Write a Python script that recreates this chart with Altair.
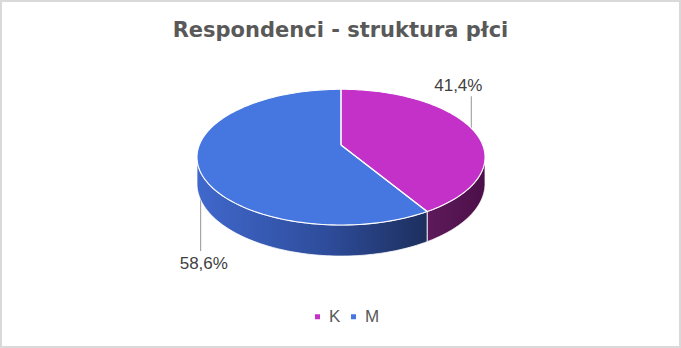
import altair as alt
import numpy as np
import pandas as pd

# ---- data ----
categories = ["K", "M"]
shares = [41.4, 58.6]
title_text = "Respondenci - struktura płci"

# ---- styles ----
top_colors = ["#C331C9", "#4676DF"]
wall_stops = [
    [("#5E1A5B", 0.0), ("#4C0F49", 1.0)],
    [("#4068CC", 0.0), ("#2E4D9C", 0.55), ("#1D2F5E", 1.0)],
]
# label offsets relative to the slice's mid-angle rim point (pixels)
leader_dx = [0.0, 3.0]
leader_dy = [-32.0, 87.6]
text_dx = [-13.0, 6.2]
text_dy = [-37.0, 105.9]

# ---- 3D pie layout (perspective-projected disc) ----
W, H = 681, 348
CX, CY = 341.0, 145.0      # apex of the pie
RX, RY = 141.7, 65.7       # disc radii on screen
PERSP = -0.179             # perspective factor (front is closer)
DEPTH = 25.5               # thickness of the disc


def proj(theta_deg, depth=0.0):
    t = np.radians(theta_deg)
    u = np.sin(t)
    v = -np.cos(t)
    den = 1 + PERSP * v
    return CX + RX * u / den, CY + (RY * v + depth) / den


total = float(sum(shares))
ends = np.cumsum(shares) / total * 360.0
starts = np.concatenate([[0.0], ends[:-1]])
sil = np.degrees(np.arccos(PERSP))          # right silhouette angle
sil_r, sil_l = sil, 360.0 - sil

top_rows, wall_rows, lab_rows = [], [], []
for i, cat in enumerate(categories):
    a0, a1 = starts[i], ends[i]
    angs = np.linspace(a0, a1, 120)
    k = 0
    top_rows.append(dict(cat=cat, k=k, x=CX, y=CY)); k += 1
    for a in angs:
        x, y = proj(a)
        top_rows.append(dict(cat=cat, k=k, x=x, y=y)); k += 1
    top_rows.append(dict(cat=cat, k=k, x=CX, y=CY))

    lo, hi = max(a0, sil_r), min(a1, sil_l)
    if hi > lo:
        wa = np.linspace(lo, hi, 100)
        k = 0
        for a in wa:
            x, y = proj(a)
            wall_rows.append(dict(cat=cat, k=k, x=x, y=y)); k += 1
        for a in wa[::-1]:
            x, y = proj(a, DEPTH)
            wall_rows.append(dict(cat=cat, k=k, x=x, y=y)); k += 1
        x, y = proj(wa[0])
        wall_rows.append(dict(cat=cat, k=k, x=x, y=y))

    mid = (a0 + a1) / 2
    ax, ay = proj(mid)
    lab_rows.append(dict(
        cat=cat,
        label=f"{shares[i]:.1f}".replace(".", ",") + "%",
        lx=ax + leader_dx[i], ly=ay, ly2=ay + leader_dy[i],
        tx=ax + text_dx[i], ty=ay + text_dy[i],
    ))

top_df = pd.DataFrame(top_rows)
wall_df = pd.DataFrame(wall_rows)
lab_df = pd.DataFrame(lab_rows)

xs = alt.Scale(domain=[0, W], nice=False, zero=False)
ys = alt.Scale(domain=[0, H], nice=False, zero=False, reverse=True)
X = lambda f: alt.X(f, type="quantitative", scale=xs, axis=None)
Y = lambda f: alt.Y(f, type="quantitative", scale=ys, axis=None)

leaders = alt.Chart(lab_df).mark_rule(color="#A6A6A6", strokeWidth=1.2).encode(
    x=X("lx"), y=Y("ly"), y2="ly2"
)

walls = []
for i, cat in enumerate(categories):
    grad = alt.Gradient(
        gradient="linear",
        stops=[alt.GradientStop(color=c, offset=o) for c, o in wall_stops[i]],
        x1=0, x2=1, y1=0, y2=0,
    )
    walls.append(
        alt.Chart(wall_df)
        .transform_filter(alt.datum.cat == cat)
        .mark_line(fill=grad, stroke="#FFFFFF", strokeWidth=0.8, strokeJoin="round")
        .encode(x=X("x"), y=Y("y"), order="k:Q")
    )

tops = alt.Chart(top_df).mark_line(strokeOpacity=0).encode(
    x=X("x"), y=Y("y"), order="k:Q", detail="cat:N",
    fill=alt.Fill(
        "cat:N",
        scale=alt.Scale(domain=categories, range=top_colors),
        legend=alt.Legend(
            title=None, orient="none", legendX=309, legendY=308,
            direction="horizontal", symbolType="square", symbolSize=25,
            symbolStrokeWidth=0, labelFont="Liberation Sans", labelFontSize=17,
            labelColor="#595959", labelOffset=3, columnPadding=4, padding=0,
        ),
    ),
)
outline = alt.Chart(top_df).mark_line(
    stroke="#FFFFFF", strokeWidth=1.1, strokeJoin="round"
).encode(x=X("x"), y=Y("y"), order="k:Q", detail="cat:N")

texts = alt.Chart(lab_df).mark_text(
    font="Liberation Sans", fontSize=17, color="#404040",
    align="center", baseline="alphabetic",
).encode(x=X("tx"), y=Y("ty"), text="label:N")

chart = alt.layer(leaders, *walls, tops, outline, texts).properties(
    width=W, height=H, padding=0, autosize="none",
    title=alt.TitleParams(
        title_text, font="DejaVu Sans", fontSize=21, fontWeight="bold",
        color="#595959", anchor="middle", frame="group",
        baseline="alphabetic", offset=-58,
    ),
).configure_view(stroke="#D9D9D9", strokeWidth=4)

chart.save("out.html", embed_options={"renderer": "svg", "actions": False})
